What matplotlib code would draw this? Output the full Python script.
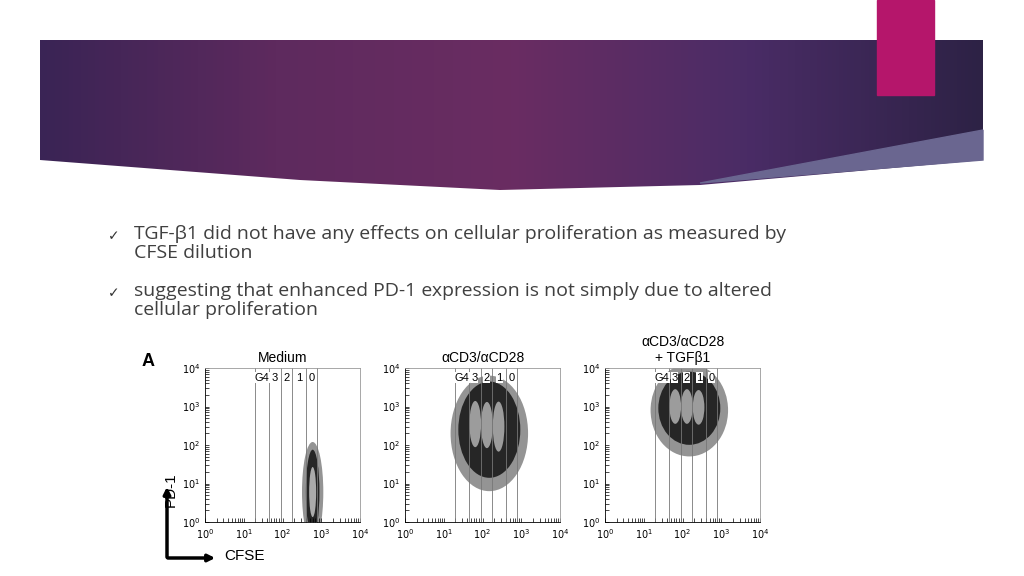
import numpy as np
import matplotlib.pyplot as plt
from matplotlib.patches import Ellipse, Rectangle, Polygon

bullets = ["TGF-\u03b21 did not have any effects on cellular proliferation as measured by\nCFSE dilution",
           "suggesting that enhanced PD-1 expression is not simply due to altered\ncellular proliferation"]
titles = ["Medium", "\u03b1CD3/\u03b1CD28", "\u03b1CD3/\u03b1CD28\n+ TGF\u03b21"]
gate_edges = [20, 45, 90, 180, 400, 800]
gate_labels = ["G4", "3", "2", "1", "0"]
# populations per panel: (cfse center, pd1 center, log width x, log height y, shade)
populations = [
    [(600, 6, 0.55, 2.6, "#888888"), (600, 6, 0.35, 2.2, "#1a1a1a"), (600, 6, 0.18, 1.3, "#bbbbbb")],
    [(150, 200, 2.0, 3.0, "#888888"), (150, 250, 1.6, 2.5, "#1a1a1a"), (65, 350, 0.3, 1.2, "#aaaaaa"),
     (130, 330, 0.3, 1.2, "#aaaaaa"), (260, 300, 0.3, 1.3, "#aaaaaa")],
    [(150, 800, 2.0, 2.4, "#888888"), (150, 900, 1.6, 1.9, "#1a1a1a"), (65, 1000, 0.3, 0.9, "#aaaaaa"),
     (130, 1000, 0.3, 0.9, "#aaaaaa"), (260, 950, 0.3, 0.9, "#aaaaaa")],
]
panel_left = [205, 405, 605]

W, H = 1024, 576
fig = plt.figure(figsize=(W / 100, H / 100), dpi=100)
bg = fig.add_axes([0, 0, 1, 1])
bg.set_xlim(0, W)
bg.set_ylim(H, 0)
bg.axis("off")

# banner with gradient
grad = np.linspace(0, 1, 256)[None, :]
img = bg.imshow(grad, extent=[40, 983, 190, 40], cmap=plt.matplotlib.colors.LinearSegmentedColormap.from_list(
    "b", ["#3a2455", "#5e2a5e", "#6a2d62", "#4a2c66", "#2d2245"]), aspect="auto", zorder=1)
clip = Polygon([(40, 40), (983, 40), (983, 160), (700, 185), (500, 190), (300, 180), (40, 160)],
               closed=True, transform=bg.transData)
img.set_clip_path(clip)
bg.add_patch(Polygon([(700, 183), (983, 130), (983, 160)], closed=True, color="#6a6690", zorder=2))
bg.add_patch(Rectangle((877, 0), 57, 95, color="#b5166b", zorder=3))

for i, b in enumerate(bullets):
    y = 236 + i * 57
    bg.text(108, y, "\u2713", fontsize=10, va="center", color="#333333", family="DejaVu Sans")
    bg.text(134, y - 11, b, fontsize=14, va="top", color="#404040", family="Open Sans", linespacing=1.1)

bg.text(142, 362, "A", fontsize=13, fontweight="bold", va="center", family="Liberation Sans")
bg.annotate("", xy=(167, 484), xytext=(167, 560), arrowprops=dict(arrowstyle="-|>", lw=2.5, color="black"))
bg.annotate("", xy=(218, 558), xytext=(165, 558), arrowprops=dict(arrowstyle="-|>", lw=2.5, color="black"))
bg.text(171, 490, "PD-1", rotation=90, fontsize=11, va="center", ha="center", family="Liberation Sans")
bg.text(224, 556, "CFSE", fontsize=11, va="center", family="Liberation Sans")

minor = [np.log10(m) + k for k in range(4) for m in range(2, 10)]
for i, x0 in enumerate(panel_left):
    ax = fig.add_axes([x0 / W, 1 - 522 / H, 155 / W, 154 / H])
    ax.set_xlim(0, 4)
    ax.set_ylim(0, 4)
    for cx, cy, wx, hy, c in populations[i]:
        ax.add_patch(Ellipse((np.log10(cx), np.log10(cy)), wx, hy, color=c, alpha=0.9, lw=0))
    for e in gate_edges:
        ax.axvline(np.log10(e), color="#777777", lw=0.6)
    for j, lab in enumerate(gate_labels):
        xm = (np.log10(gate_edges[j]) + np.log10(gate_edges[j + 1])) / 2
        ax.text(xm, 3.75, lab, ha="center", va="center", fontsize=8, family="Liberation Sans",
                bbox=dict(fc="white", ec="none", pad=0.3))
    ticks = range(5)
    ax.set_xticks(ticks)
    ax.set_yticks(ticks)
    ax.set_xticklabels([f"$10^{k}$" for k in ticks], fontsize=7)
    ax.set_yticklabels([f"$10^{k}$" for k in ticks], fontsize=7)
    ax.set_xticks(minor, minor=True)
    ax.set_yticks(minor, minor=True)
    ax.tick_params(which="both", length=3, width=0.5, direction="in")
    for s in ax.spines.values():
        s.set_color("#999999")
        s.set_linewidth(0.6)
    ax.spines["left"].set_color("black")
    ax.spines["bottom"].set_color("black")
    ax.set_title(titles[i], fontsize=10, family="Liberation Sans", pad=4)

fig.savefig("out.png", dpi=100)
